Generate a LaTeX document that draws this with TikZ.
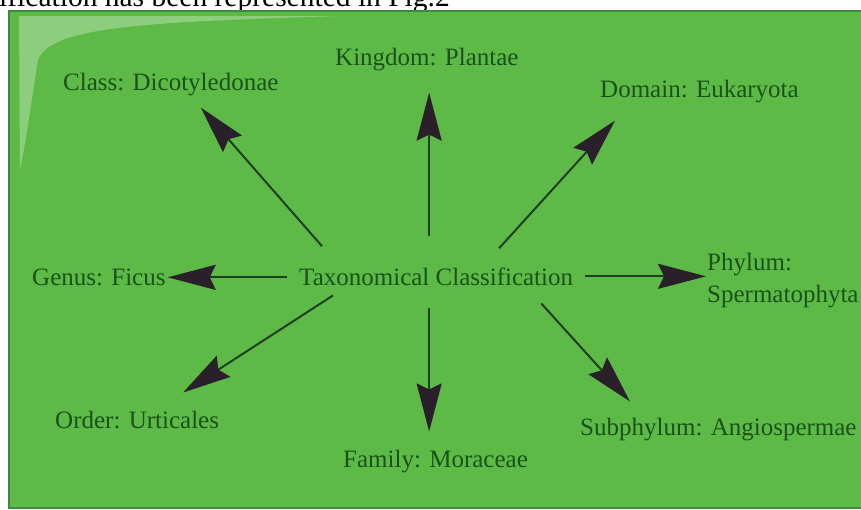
\documentclass[tikz,border=0pt]{standalone}
\usepackage{fontspec}
\setmainfont{Liberation Serif}
\usetikzlibrary{arrows.meta}
\definecolor{leafgreen}{HTML}{5DBA47}
\definecolor{rimgreen}{HTML}{3F8A3A}
\definecolor{inkgreen}{HTML}{1A521A}
\definecolor{stemgreen}{HTML}{1F3F1F}
\definecolor{headdark}{HTML}{2A2029}

\begin{document}
\begin{tikzpicture}[x=1pt,y=-1pt,
  every node/.style={font=\fontsize{25}{32}\selectfont,inner sep=0pt,text=inkgreen},
  taxon/.style={anchor=base west},
  spoke/.style={draw=stemgreen,line width=2pt,
    -{Stealth[length=48pt,width=25pt,inset=6pt,color=headdark]}}]
  \useasboundingbox (0,0) rectangle (861,509);
  \clip (0,0) rectangle (861,509);
  % caption cut off above the panel
  \node[anchor=base west,text=black,font=\fontsize{29.5}{34}\selectfont] (caption) at (-1,6)
    {ification has been represented in Fig.2};
  % panel
  \fill[leafgreen] (9,11) rectangle (870,508);
  \fill[white,opacity=0.3] (19,16) -- (340,16) .. controls (150,22) and (50,26) .. (38,60)
    .. controls (33,90) and (28,130) .. (20,170) -- cycle;
  \draw[rimgreen,line width=2pt] (870,11) -- (9,11) -- (9,508) -- (870,508);
  % labels
  \node[taxon] (tax) at (299,285) {Taxonomical Classification};
  \node[taxon] (kingdom) at (335,65) {Kingdom: Plantae};
  \node[taxon] (class) at (63,90) {Class: Dicotyledonae};
  \node[taxon] (domain) at (600,97) {Domain: Eukaryota};
  \node[taxon] (genus) at (32,285) {Genus: Ficus};
  \node[anchor=north west,align=left] (phylum) at (707,253) {Phylum:\\Spermatophyta};
  \node[taxon] (order) at (55,428) {Order: Urticales};
  \node[taxon] (family) at (343,467) {Family: Moraceae};
  \node[taxon] (subphylum) at (580,435) {Subphylum: Angiospermae};
  % arrows
  \draw[spoke] ([shift={(-7,-31)}]tax.north) -- ([shift={(-7,22)}]tax.north |- kingdom.south);
  \draw[spoke] ([shift={(23,-21)}]tax.north west) -- ([shift={(30,12)}]class.south);
  \draw[spoke] ([shift={(63,-19)}]tax.north) -- ([shift={(15,18)}]domain.south west);
  \draw[spoke] ([shift={(-12,1)}]tax.west) -- ([shift={(2,1)}]genus.east |- tax.west);
  \draw[spoke] ([shift={(12,0)}]tax.east) -- ([shift={(-1,0)}]phylum.west |- tax.east);
  \draw[spoke] ([shift={(34,10)}]tax.south west) -- ([shift={(46,-18)}]order.north);
  \draw[spoke] ([shift={(-7,23)}]tax.south) -- ([shift={(-7,-18)}]tax.south |- family.north);
  \draw[spoke] ([shift={(-32,18)}]tax.south east) -- ([shift={(50,-16)}]subphylum.north west);
\end{tikzpicture}
\end{document}
